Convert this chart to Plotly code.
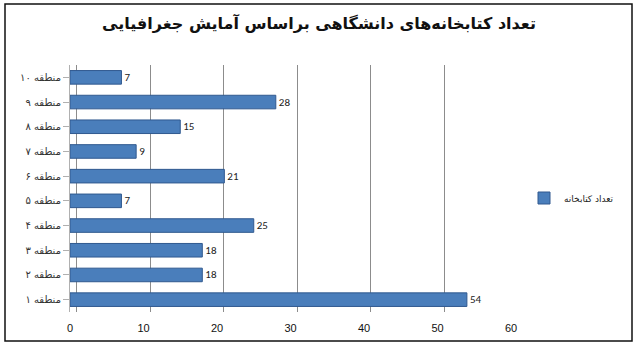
import plotly.graph_objects as go

regions = ["منطقه ۱", "منطقه ۲", "منطقه ۳", "منطقه ۴", "منطقه ۵",
           "منطقه ۶", "منطقه ۷", "منطقه ۸", "منطقه ۹", "منطقه ۱۰"]
counts = [54, 18, 18, 25, 7, 21, 9, 15, 28, 7]
series_name = "تعداد کتابخانه"
title_text = "تعداد کتابخانه‌های دانشگاهی براساس آمایش جغرافیایی"
x_ticks = [0, 10, 20, 30, 40, 50, 60]

W, H = 639, 346
ML, MR, MT, MB = 70, 128, 65, 34
pw, ph = W - ML - MR, H - MT - MB

fig = go.Figure()
fig.add_trace(go.Bar(
    y=regions, x=counts, orientation="h", name=series_name,
    marker=dict(color="#4a7ebb", line=dict(color="#30598f", width=1)),
    width=0.55,
    text=[str(v) for v in counts], textposition="outside",
    textfont=dict(family="Calibri, Liberation Sans, DejaVu Sans", size=11, color="#222"),
    cliponaxis=False,
))
# grid-only overlay axis (back wall offset like the 3D original)
fig.add_trace(go.Scatter(x=[None], y=[None], xaxis="x2", showlegend=False, hoverinfo="skip"))

def px2paper_x(p):
    return (p - ML) / pw

def px2paper_y(p):
    return (H - MB - p) / ph

fig.update_layout(
    width=W, height=H,
    margin=dict(l=ML, r=MR, t=MT, b=MB, autoexpand=False),
    paper_bgcolor="white", plot_bgcolor="white",
    title=dict(text="<b>" + title_text + "</b>", x=319 / W, xref="container", xanchor="center",
               y=1 - 23 / H, yanchor="middle",
               font=dict(family="DejaVu Sans", size=16, color="#111")),
    xaxis=dict(range=[0, 60], tickvals=x_ticks, showgrid=False, zeroline=False,
               showline=False, ticks="",
               tickfont=dict(family="Liberation Sans, DejaVu Sans", size=11, color="#111"),
               ticklabelstandoff=8),
    xaxis2=dict(range=[-0.95, 59.05], overlaying="x", tickvals=x_ticks, showgrid=True,
                gridcolor="#8c8c8c", gridwidth=1, showticklabels=False, zeroline=False,
                showline=False, ticks=""),
    yaxis=dict(categoryorder="array", categoryarray=regions, showgrid=False,
               showline=True, linecolor="#b0b0b0", ticks="outside", ticklen=6,
               tickcolor="#b0b0b0",
               tickfont=dict(family="DejaVu Sans", size=10, color="#333"),
               range=[-0.5, 9.5]),
    legend=dict(x=px2paper_x(524), y=px2paper_y(198), xanchor="left", yanchor="middle",
                font=dict(family="DejaVu Sans", size=9, color="#222"),
                bgcolor="rgba(0,0,0,0)", itemwidth=30),
    bargap=0.5,
    shapes=[dict(type="rect", xref="paper", yref="paper",
                 x0=px2paper_x(5), x1=px2paper_x(632),
                 y0=px2paper_y(341), y1=px2paper_y(4),
                 line=dict(color="#111", width=1.5), layer="below")],
)
fig.write_html("out.html")
